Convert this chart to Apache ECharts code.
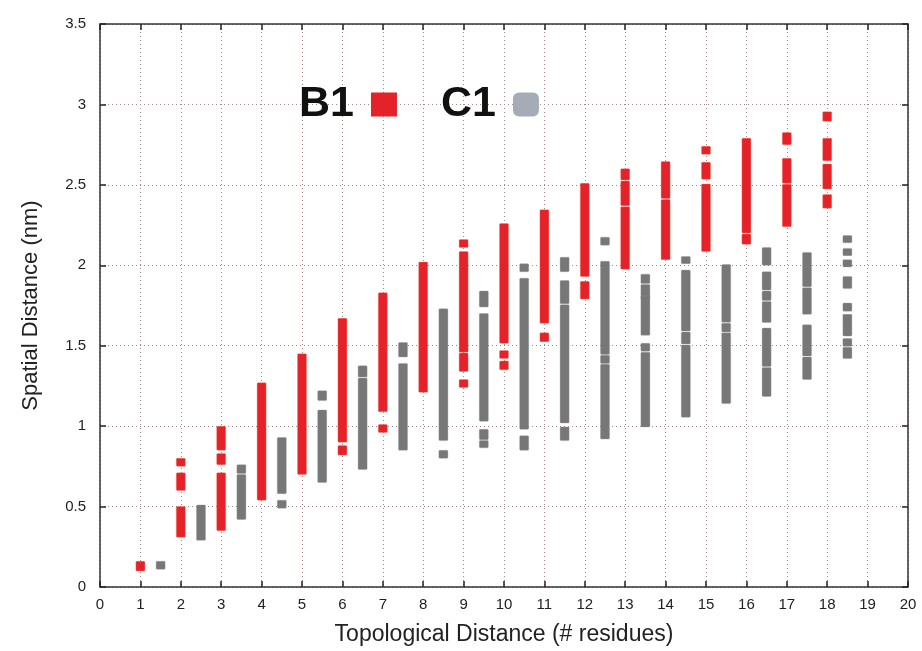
<!DOCTYPE html>
<html>
<head>
<meta charset="utf-8">
<script src="https://cdn.jsdelivr.net/npm/echarts@6/dist/echarts.min.js"></script>
<style>
  html, body { margin: 0; padding: 0; background: #fff; }
  #chart { width: 922px; height: 651px; }
</style>
</head>
<body>
<div id="chart"></div>
<script>
// x ticks and y ticks
const xTicks = [0, 1, 2, 3, 4, 5, 6, 7, 8, 9, 10, 11, 12, 13, 14, 15, 16, 17, 18, 19, 20];
const yTicks = [0, 0.5, 1, 1.5, 2, 2.5, 3, 3.5];

// B1 segments: [topological distance, low, high] in nm
const b1Segments = [
  [1, 0.10, 0.16],
  [2, 0.75, 0.80], [2, 0.60, 0.71], [2, 0.31, 0.50],
  [3, 0.85, 1.00], [3, 0.76, 0.83], [3, 0.35, 0.71],
  [4, 0.54, 1.27],
  [5, 0.70, 1.45],
  [6, 0.90, 1.67], [6, 0.82, 0.88],
  [7, 1.09, 1.83], [7, 0.96, 1.01],
  [8, 1.21, 2.02],
  [9, 2.11, 2.16], [9, 1.46, 2.085], [9, 1.34, 1.455], [9, 1.24, 1.29],
  [10, 1.515, 2.26], [10, 1.42, 1.47], [10, 1.35, 1.405],
  [11, 1.64, 2.345], [11, 1.525, 1.58],
  [12, 1.93, 2.51], [12, 1.79, 1.90],
  [13, 2.53, 2.60], [13, 2.37, 2.524], [13, 1.975, 2.364],
  [14, 2.415, 2.645], [14, 2.035, 2.409],
  [15, 2.69, 2.74], [15, 2.535, 2.64], [15, 2.085, 2.505],
  [16, 2.20, 2.79], [16, 2.13, 2.194],
  [17, 2.75, 2.825], [17, 2.51, 2.665], [17, 2.24, 2.504],
  [18, 2.895, 2.955], [18, 2.65, 2.79], [18, 2.475, 2.63], [18, 2.355, 2.44]
];

// C1 segments
const c1Segments = [
  [1.5, 0.11, 0.16],
  [2.5, 0.29, 0.51],
  [3.5, 0.42, 0.699], [3.5, 0.705, 0.76],
  [4.5, 0.58, 0.93], [4.5, 0.49, 0.54],
  [5.5, 0.65, 1.10], [5.5, 1.16, 1.22],
  [6.5, 0.73, 1.299], [6.5, 1.305, 1.375],
  [7.5, 0.85, 1.39], [7.5, 1.43, 1.52],
  [8.5, 0.91, 1.73], [8.5, 0.80, 0.85],
  [9.5, 1.74, 1.84], [9.5, 1.03, 1.70], [9.5, 0.916, 0.98], [9.5, 0.865, 0.91],
  [10.5, 1.96, 2.01], [10.5, 0.98, 1.92], [10.5, 0.85, 0.94],
  [11.5, 1.96, 2.05], [11.5, 1.761, 1.905], [11.5, 1.02, 1.755], [11.5, 0.91, 0.995],
  [12.5, 2.125, 2.175], [12.5, 1.446, 2.025], [12.5, 1.39, 1.44], [12.5, 0.92, 1.384],
  [13.5, 1.886, 1.945], [13.5, 1.79, 1.88], [13.5, 1.565, 1.81], [13.5, 1.466, 1.515], [13.5, 0.995, 1.46],
  [14.5, 2.01, 2.055], [14.5, 1.591, 1.97], [14.5, 1.511, 1.585], [14.5, 1.055, 1.505],
  [15.5, 1.646, 2.005], [15.5, 1.586, 1.64], [15.5, 1.14, 1.58],
  [16.5, 2.00, 2.11], [16.5, 1.846, 1.96], [16.5, 1.781, 1.84], [16.5, 1.645, 1.775], [16.5, 1.371, 1.61], [16.5, 1.185, 1.365],
  [17.5, 1.866, 2.08], [17.5, 1.695, 1.86], [17.5, 1.436, 1.63], [17.5, 1.29, 1.43],
  [18.5, 2.14, 2.185], [18.5, 2.06, 2.105], [18.5, 1.99, 2.035], [18.5, 1.855, 1.93],
  [18.5, 1.715, 1.765], [18.5, 1.56, 1.695], [18.5, 1.496, 1.545], [18.5, 1.42, 1.49]
];

const FONT = 'Liberation Sans, Arial, Helvetica, sans-serif';
const gridLine = { show: true, lineStyle: { color: '#a08888', type: [1, 3], width: 1 } };

function barRenderer(edge) {
  return function (params, api) {
    const x = api.value(0);
    const top = api.coord([x, api.value(2)]);
    const bot = api.coord([x, api.value(1)]);
    const w = 9;
    return {
      type: 'rect',
      shape: { x: top[0] - w / 2, y: top[1], width: w, height: Math.max(bot[1] - top[1], 1), r: 1 },
      style: { fill: api.visual('color'), stroke: edge, lineWidth: 0.5 }
    };
  };
}

const chart = echarts.init(document.getElementById('chart'));
const option = {
  backgroundColor: '#fff',
  animation: false,
  textStyle: { fontFamily: FONT },
  grid: { left: 100, right: 14, top: 24, bottom: 60 },
  legend: {
    left: 294,
    top: 78,
    align: 'right',
    itemWidth: 26,
    itemHeight: 24,
    itemGap: 44,
    selectedMode: false,
    textStyle: { fontFamily: FONT, fontSize: 43, fontWeight: 'bold', color: '#111', padding: [0, 12, 0, 0] },
    data: [
      { name: 'B1', icon: 'rect', itemStyle: { color: '#e52129' } },
      { name: 'C1', icon: 'roundRect', itemStyle: { color: '#a5acb5' } }
    ]
  },
  xAxis: [
    {
      type: 'value', min: 0, max: 20, interval: 1,
      name: 'Topological Distance (# residues)',
      nameLocation: 'middle', nameGap: 36,
      nameTextStyle: { fontSize: 23, color: '#222', fontFamily: FONT },
      axisLine: { lineStyle: { color: '#333', width: 1.5 } },
      axisTick: { inside: true, length: 6, lineStyle: { color: '#222', width: 1.5 } },
      axisLabel: { fontSize: 15, color: '#222', margin: 10, fontFamily: FONT },
      splitLine: gridLine
    },
    {
      type: 'value', min: 0, max: 20, interval: 1, position: 'top',
      axisLine: { show: true, onZero: false, lineStyle: { color: '#333', width: 1.5 } },
      axisTick: { show: true, inside: true, length: 6, lineStyle: { color: '#222', width: 1.5 } },
      axisLabel: { show: false },
      splitLine: { show: false }
    }
  ],
  yAxis: [
    {
      type: 'value', min: 0, max: 3.5, interval: 0.5,
      name: 'Spatial Distance (nm)',
      nameLocation: 'middle', nameGap: 58,
      nameTextStyle: { fontSize: 22, color: '#222', fontFamily: FONT },
      axisLine: { show: true, lineStyle: { color: '#333', width: 1.5 } },
      axisTick: { show: true, inside: true, length: 6, lineStyle: { color: '#222', width: 1.5 } },
      axisLabel: { fontSize: 15, color: '#222', margin: 14, fontFamily: FONT },
      splitLine: gridLine
    },
    {
      type: 'value', min: 0, max: 3.5, interval: 0.5, position: 'right',
      axisLine: { show: true, onZero: false, lineStyle: { color: '#333', width: 1.5 } },
      axisTick: { show: true, inside: true, length: 6, lineStyle: { color: '#222', width: 1.5 } },
      axisLabel: { show: false },
      splitLine: { show: false }
    }
  ],
  series: [
    {
      name: 'B1',
      type: 'custom',
      itemStyle: { color: '#e52129' },
      renderItem: barRenderer('rgba(244,120,90,0.7)'),
      encode: { x: 0, y: [1, 2] },
      data: b1Segments
    },
    {
      name: 'C1',
      type: 'custom',
      itemStyle: { color: '#777777' },
      renderItem: barRenderer('rgba(150,150,150,0.7)'),
      encode: { x: 0, y: [1, 2] },
      data: c1Segments
    }
  ]
};
chart.setOption(option);
</script>
</body>
</html>
